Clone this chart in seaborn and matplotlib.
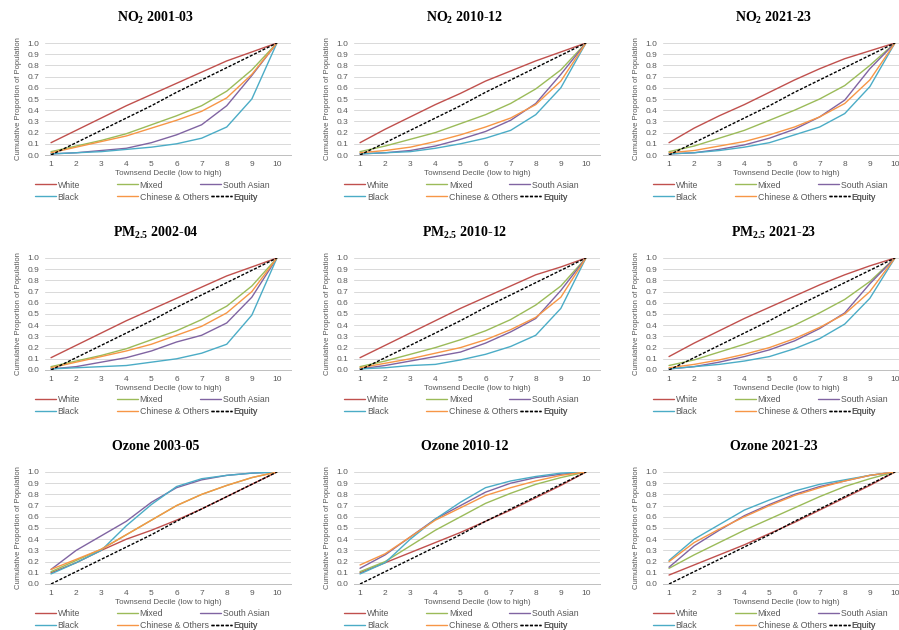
import matplotlib
matplotlib.use('Agg')
import matplotlib.pyplot as plt
from matplotlib.lines import Line2D
import seaborn as sns
import pandas as pd

# Townsend deciles on the x axis
deciles = [1, 2, 3, 4, 5, 6, 7, 8, 9, 10]
groups = ['White', 'Mixed', 'South Asian', 'Black', 'Chinese & Others']
equity = [0.0, 0.11, 0.22, 0.33, 0.44, 0.56, 0.67, 0.78, 0.89, 1.0]

# cumulative proportions
no2_2001 = {
    'White':            [0.11, 0.22, 0.33, 0.44, 0.54, 0.64, 0.74, 0.84, 0.92, 1.0],
    'Mixed':            [0.03, 0.08, 0.13, 0.19, 0.27, 0.35, 0.44, 0.57, 0.76, 1.0],
    'South Asian':      [0.01, 0.02, 0.04, 0.06, 0.11, 0.18, 0.27, 0.44, 0.71, 1.0],
    'Black':            [0.01, 0.02, 0.03, 0.05, 0.07, 0.10, 0.15, 0.25, 0.50, 1.0],
    'Chinese & Others': [0.02, 0.07, 0.12, 0.17, 0.24, 0.31, 0.39, 0.51, 0.72, 1.0],
}
no2_2010 = {
    'White':            [0.11, 0.23, 0.34, 0.45, 0.55, 0.66, 0.75, 0.84, 0.92, 1.0],
    'Mixed':            [0.03, 0.08, 0.14, 0.20, 0.28, 0.36, 0.46, 0.59, 0.76, 1.0],
    'South Asian':      [0.01, 0.02, 0.04, 0.08, 0.14, 0.21, 0.31, 0.46, 0.72, 1.0],
    'Black':            [0.01, 0.02, 0.03, 0.06, 0.10, 0.15, 0.22, 0.36, 0.60, 1.0],
    'Chinese & Others': [0.02, 0.04, 0.07, 0.12, 0.18, 0.25, 0.33, 0.45, 0.66, 1.0],
}
no2_2021 = {
    'White':            [0.11, 0.24, 0.35, 0.45, 0.56, 0.67, 0.77, 0.86, 0.93, 1.0],
    'Mixed':            [0.03, 0.08, 0.15, 0.22, 0.31, 0.40, 0.50, 0.62, 0.80, 1.0],
    'South Asian':      [0.01, 0.02, 0.05, 0.09, 0.15, 0.23, 0.34, 0.49, 0.77, 1.0],
    'Black':            [0.01, 0.02, 0.04, 0.07, 0.11, 0.18, 0.25, 0.37, 0.61, 1.0],
    'Chinese & Others': [0.02, 0.04, 0.08, 0.12, 0.18, 0.25, 0.34, 0.46, 0.67, 1.0],
}
pm25_2002 = {
    'White':            [0.11, 0.22, 0.33, 0.44, 0.54, 0.64, 0.74, 0.84, 0.92, 1.0],
    'Mixed':            [0.03, 0.08, 0.13, 0.19, 0.27, 0.35, 0.45, 0.57, 0.75, 1.0],
    'South Asian':      [0.01, 0.03, 0.07, 0.11, 0.17, 0.25, 0.31, 0.42, 0.65, 1.0],
    'Black':            [0.01, 0.02, 0.03, 0.04, 0.07, 0.10, 0.15, 0.23, 0.49, 1.0],
    'Chinese & Others': [0.02, 0.07, 0.12, 0.17, 0.23, 0.31, 0.39, 0.51, 0.70, 1.0],
}
pm25_2010 = {
    'White':            [0.11, 0.22, 0.33, 0.44, 0.55, 0.65, 0.75, 0.85, 0.92, 1.0],
    'Mixed':            [0.03, 0.08, 0.14, 0.20, 0.27, 0.35, 0.45, 0.58, 0.75, 1.0],
    'South Asian':      [0.01, 0.04, 0.08, 0.12, 0.16, 0.24, 0.34, 0.46, 0.71, 1.0],
    'Black':            [0.01, 0.02, 0.04, 0.05, 0.09, 0.14, 0.21, 0.31, 0.55, 1.0],
    'Chinese & Others': [0.02, 0.06, 0.10, 0.15, 0.20, 0.27, 0.36, 0.47, 0.65, 1.0],
}
pm25_2021 = {
    'White':            [0.12, 0.24, 0.35, 0.46, 0.56, 0.66, 0.76, 0.85, 0.93, 1.0],
    'Mixed':            [0.04, 0.09, 0.16, 0.23, 0.31, 0.40, 0.51, 0.63, 0.79, 1.0],
    'South Asian':      [0.01, 0.03, 0.07, 0.12, 0.18, 0.26, 0.37, 0.51, 0.77, 1.0],
    'Black':            [0.01, 0.03, 0.05, 0.08, 0.12, 0.19, 0.28, 0.41, 0.64, 1.0],
    'Chinese & Others': [0.02, 0.05, 0.09, 0.14, 0.20, 0.28, 0.38, 0.50, 0.70, 1.0],
}
ozone_2003 = {
    'White':            [0.10, 0.19, 0.30, 0.40, 0.48, 0.57, 0.67, 0.78, 0.89, 1.0],
    'Mixed':            [0.11, 0.21, 0.31, 0.44, 0.57, 0.70, 0.80, 0.88, 0.95, 1.0],
    'South Asian':      [0.13, 0.30, 0.43, 0.56, 0.73, 0.86, 0.93, 0.97, 0.99, 1.0],
    'Black':            [0.09, 0.19, 0.30, 0.52, 0.71, 0.87, 0.94, 0.97, 0.99, 1.0],
    'Chinese & Others': [0.13, 0.22, 0.31, 0.44, 0.57, 0.70, 0.80, 0.88, 0.95, 1.0],
}
ozone_2010 = {
    'White':            [0.10, 0.19, 0.28, 0.37, 0.46, 0.56, 0.66, 0.77, 0.88, 1.0],
    'Mixed':            [0.11, 0.20, 0.34, 0.48, 0.60, 0.72, 0.81, 0.89, 0.95, 1.0],
    'South Asian':      [0.14, 0.26, 0.42, 0.58, 0.70, 0.82, 0.90, 0.95, 0.98, 1.0],
    'Black':            [0.09, 0.19, 0.40, 0.58, 0.73, 0.86, 0.92, 0.96, 0.99, 1.0],
    'Chinese & Others': [0.17, 0.27, 0.42, 0.57, 0.68, 0.79, 0.86, 0.92, 0.97, 1.0],
}
ozone_2021 = {
    'White':            [0.08, 0.17, 0.26, 0.35, 0.45, 0.55, 0.66, 0.77, 0.88, 1.0],
    'Mixed':            [0.14, 0.26, 0.37, 0.48, 0.58, 0.68, 0.78, 0.87, 0.94, 1.0],
    'South Asian':      [0.15, 0.34, 0.48, 0.61, 0.71, 0.80, 0.87, 0.92, 0.97, 1.0],
    'Black':            [0.21, 0.40, 0.53, 0.66, 0.75, 0.83, 0.89, 0.93, 0.97, 1.0],
    'Chinese & Others': [0.20, 0.37, 0.49, 0.60, 0.70, 0.79, 0.86, 0.92, 0.97, 1.0],
}

titles = ['NO$_2$ 2001-03', 'NO$_2$ 2010-12', 'NO$_2$ 2021-23',
          'PM$_{2.5}$ 2002-04', 'PM$_{2.5}$ 2010-12', 'PM$_{2.5}$ 2021-23',
          'Ozone 2003-05', 'Ozone 2010-12', 'Ozone 2021-23']
panels = [no2_2001, no2_2010, no2_2021,
          pm25_2002, pm25_2010, pm25_2021,
          ozone_2003, ozone_2010, ozone_2021]

colors = {'White': '#C0504D', 'Mixed': '#9BBB59', 'South Asian': '#8064A2',
          'Black': '#4BACC6', 'Chinese & Others': '#F79646'}
txt_col = '#595959'

sns.set_theme(style='white')
plt.rcParams['font.family'] = ['Liberation Sans', 'DejaVu Sans']
plt.rcParams['mathtext.default'] = 'regular'

fig = plt.figure(figsize=(8.99, 6.3), dpi=100)
W, H = 899, 630

# axes boxes in pixels (left, top)
col_left = [45, 354, 663]
row_top = [43, 258, 472]
ax_w, ax_h = 246, 112

# legend entries: (name, x offset px from axes left, row)
legend_slots = [('White', -10, 0), ('Mixed', 72, 0), ('South Asian', 155, 0),
                ('Black', -10, 1), ('Chinese & Others', 72, 1), ('Equity', 166, 1)]
legend_rows_px = [30, 42]

lw = 1.0
for i, (title, data) in enumerate(zip(titles, panels)):
    r, c = divmod(i, 3)
    ax = fig.add_axes([col_left[c] / W, 1 - (row_top[r] + ax_h) / H, ax_w / W, ax_h / H])

    long_df = pd.DataFrame([
        {'decile': d, 'value': v, 'group': g}
        for g in groups for d, v in zip(deciles, data[g])
    ])
    sns.lineplot(data=long_df, x='decile', y='value', hue='group',
                 hue_order=groups, palette=colors, linewidth=lw,
                 legend=False, ax=ax)
    sns.lineplot(x=deciles, y=equity, color='black', linestyle='--',
                 linewidth=lw, ax=ax)
    ax.lines[-1].set_dashes((2.2, 1.2))

    ax.set_xlim(0.76, 10.56)
    ax.set_ylim(0, 1.0)
    ax.set_xticks(deciles)
    ax.set_yticks([x / 10 for x in range(11)])
    ax.set_yticklabels([f'{x / 10:.1f}' for x in range(11)])
    ax.tick_params(axis='both', length=0, labelsize=6, colors=txt_col, pad=4)
    ax.yaxis.grid(True, color='#D9D9D9', linewidth=0.7)
    ax.set_axisbelow(True)
    for s in ['top', 'right', 'left']:
        ax.spines[s].set_visible(False)
    ax.spines['bottom'].set_color('#BFBFBF')
    ax.spines['bottom'].set_linewidth(0.7)

    ax.set_xlabel('Townsend Decile (low to high)', fontsize=5.8, color=txt_col, labelpad=1.5)
    ax.set_ylabel('Cumulative Proportion of Population', fontsize=5.5, color=txt_col, labelpad=4)

    ax.text(0.45, 1 + 25 / ax_h, title, transform=ax.transAxes, ha='center', va='center',
            fontsize=10, fontweight='bold', family=['Liberation Serif', 'DejaVu Serif'],
            color='black')

    # legend laid out entry by entry, like the spreadsheet legend
    for name, xoff, row in legend_slots:
        if name == 'Equity':
            h = Line2D([], [], color='black', linestyle='--', dashes=(2.2, 1.2),
                       linewidth=lw, label=name)
        else:
            h = Line2D([], [], color=colors[name], linewidth=lw, label=name)
        leg = ax.legend(handles=[h], loc='center left',
                        bbox_to_anchor=(xoff / ax_w, -legend_rows_px[row] / ax_h),
                        frameon=False, fontsize=6.3, handlelength=2.4, handletextpad=0.2,
                        borderpad=0, borderaxespad=0)
        for t in leg.get_texts():
            t.set_color(txt_col)
        ax.add_artist(leg)

plt.savefig('out.png', dpi=100, facecolor='white')
plt.close()
